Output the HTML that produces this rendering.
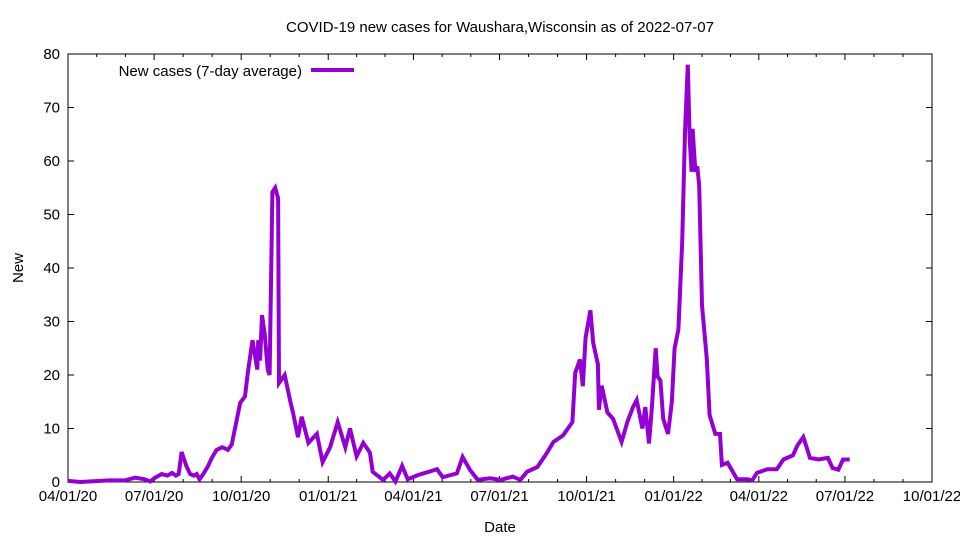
<!DOCTYPE html>
<html><head><meta charset="utf-8"><style>
body{margin:0;background:#fff}
svg text{font-family:"Liberation Sans",sans-serif;font-size:15px;fill:#000}
</style></head><body>
<svg id="chart" width="960" height="540"></svg>
<script>
const days=[0,13,34,44,60,71,81,87,92,99,105,110,114,117,120,125,129,133,136,139,143,148,152,157,163,169,173,182,187,190,195,200,201,203,205,208,211,213,216,219,222,223,229,235,238,243,247,254,263,269,277,285,293,298,305,312,319,322,333,340,346,353,359,370,379,390,396,411,417,425,433,446,457,470,478,485,496,506,513,523,533,536,541,544,547,552,555,560,561,564,570,576,585,591,597,601,607,610,614,617,621,623,626,629,634,638,641,645,649,652,655,657,659,660,663,665,667,670,675,678,684,689,691,697,707,718,723,728,739,749,756,766,771,777,781,784,793,803,808,814,819,826];
const values=[0.2,0,0.2,0.3,0.3,0.8,0.5,0.1,0.8,1.5,1.2,1.7,1.2,1.5,5.6,3,1.5,1.2,1.5,0.5,1.5,3,4.5,6,6.5,6,7,14.8,16,20.4,26.5,21,26.5,22.7,31.2,27.5,21,20,54.2,55,53,18.5,20,15,12.8,8.4,12.2,7.3,9,3.7,6.5,11.2,6.5,10,4.8,7.3,5.5,1.9,0.4,1.6,0.1,3,0.5,1.3,1.8,2.4,0.9,1.6,4.7,2.2,0.4,0.7,0.4,1,0.4,1.9,2.8,5.4,7.5,8.7,11.2,20.4,22.9,17.9,27,32.1,26,22,13.5,18,13,11.8,7.5,11.2,14,15.3,10,14,7.2,14,25,19.7,19,11.8,9,14.9,25,28.5,44.9,65.4,78,64,58,66,58,59,55.4,33,23,12.5,9,9,3.2,3.6,0.5,0.5,0.3,1.7,2.4,2.4,4.2,5,6.9,8.4,6.2,4.5,4.2,4.5,2.6,2.3,4.2,4.2];
const xTickDays=[0,91,183,275,365,456,548,640,730,821,913];
const xTickLabels=["04/01/20","07/01/20","10/01/20","01/01/21","04/01/21","07/01/21","10/01/21","01/01/22","04/01/22","07/01/22","10/01/22"];
const yTicks=[0,10,20,30,40,50,60,70,80];

const L=68,R=932,T=54,B=482,NS="http://www.w3.org/2000/svg";
const X=d=>L+d*(R-L)/913, Y=v=>B-v*(B-T)/80;
const svg=document.getElementById('chart');
function mk(t,a,txt){const e=document.createElementNS(NS,t);for(const k in a)e.setAttribute(k,a[k]);if(txt!=null)e.textContent=txt;svg.appendChild(e);return e;}
let e;
e=mk('text',{x:500,y:32,'text-anchor':'middle'},'COVID-19 new cases for Waushara,Wisconsin as of 2022-07-07');


e=mk('text',{x:500,y:532,'text-anchor':'middle'},'Date');


e=mk('text',{x:23,y:268,'text-anchor':'middle',transform:'rotate(-90 23 268)'},'New');


yTicks.forEach(v=>{
  e=mk('path',{d:`M${L} ${Y(v)}h6M${R} ${Y(v)}h-6`,stroke:'#000','stroke-width':1});
  
  
  e=mk('text',{x:L-8,y:Y(v)+5,'text-anchor':'end'},String(v));
  
  
});
xTickDays.forEach((d,i)=>{
  e=mk('path',{d:`M${X(d)} ${B}v-6M${X(d)} ${T}v6`,stroke:'#000','stroke-width':1});
  
  
  e=mk('text',{x:X(d),y:B+19,'text-anchor':'middle'},xTickLabels[i]);
  
  
  if(i<xTickDays.length-1){for(let k=1;k<3;k++){const m=d+(xTickDays[i+1]-d)*k/3;
    e=mk('path',{d:`M${X(m)} ${B}v-3M${X(m)} ${T}v3`,stroke:'#000','stroke-width':1});
    
    }}
});
e=mk('rect',{x:L,y:T,width:R-L,height:B-T,fill:'none',stroke:'#000','stroke-width':1});


e=mk('polyline',{points:days.map((d,i)=>X(d).toFixed(1)+','+Y(values[i]).toFixed(1)).join(' '),fill:'none',stroke:'#9400d3','stroke-width':4,'stroke-linejoin':'miter'});


e=mk('text',{x:302,y:76,'text-anchor':'end'},'New cases (7-day average)');


e=mk('path',{d:'M311 70h43',stroke:'#9400d3','stroke-width':4});


</script>
</body></html>
